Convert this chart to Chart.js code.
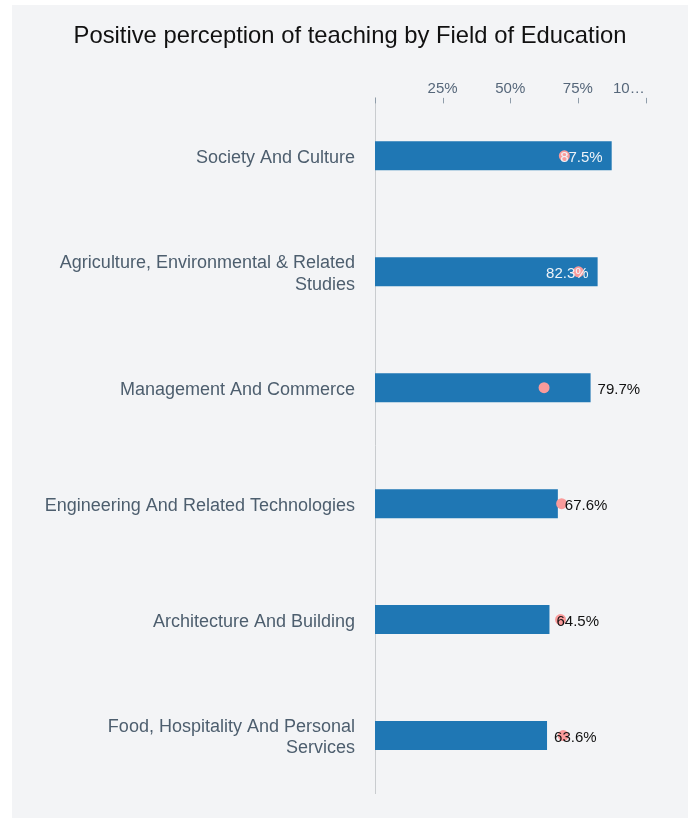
<!DOCTYPE html>
<html>
<head>
<meta charset="utf-8">
<script src="https://cdn.jsdelivr.net/npm/chart.js@4"></script>
<style>
  html, body { margin: 0; padding: 0; background: #ffffff; }
  #wrap { position: absolute; left: 12px; top: 5px; width: 676px; height: 813px; }
</style>
</head>
<body>
<div id="wrap"><canvas id="chart_teaching"></canvas></div>
<script>
var categories = [
    ['Society And Culture'],
    ['Agriculture, Environmental & Related', 'Studies'],
    ['Management And Commerce'],
    ['Engineering And Related Technologies'],
    ['Architecture And Building'],
    ['Food, Hospitality And Personal', 'Services']
];
var positiveValues = [87.5, 82.3, 79.7, 67.6, 64.5, 63.6];
var benchmarkValues = [70.0, 75.2, 62.5, 69.0, 68.6, 69.6];
var xTickValues = [0, 25, 50, 75, 100];

var FONT = '"Liberation Sans", Arial, Helvetica, sans-serif';

var chart_teaching = new Chart(document.getElementById('chart_teaching'), {
    type: 'bar',
    data: {
        labels: categories,
        datasets: [
            {
                type: 'line',
                label: 'Benchmark',
                data: benchmarkValues,
                showLine: false,
                pointRadius: 5.5,
                pointHoverRadius: 5.5,
                pointBorderWidth: 0,
                pointBackgroundColor: '#fa9b9b',
                borderColor: '#fa9b9b',
                order: 1
            },
            {
                label: 'Positive perception',
                data: positiveValues,
                backgroundColor: '#1f77b4',
                categoryPercentage: 1,
                barPercentage: 0.25,
                order: 2
            }
        ]
    },
    options: {
        animation: false,
        responsive: true,
        maintainAspectRatio: false,
        indexAxis: 'y',
        layout: {
            // equal side padding keeps the title centred on the panel
            padding: { left: 42.5, right: 42.5, top: 0, bottom: 24.5 }
        },
        plugins: {
            legend: { display: false },
            tooltip: { enabled: false },
            title: {
                display: true,
                text: 'Positive perception of teaching by Field of Education',
                color: '#111111',
                font: { family: FONT, size: 23.8, weight: 'normal' },
                padding: { top: 16.7, bottom: 28.6 }
            }
        },
        scales: {
            x: {
                position: 'top',
                min: 0,
                max: 100,
                afterBuildTicks: function(scale) {
                    scale.ticks = xTickValues.map(function(v) { return { value: v }; });
                },
                ticks: {
                    color: '#56677a',
                    padding: 0.5,
                    maxRotation: 0,
                    minRotation: 0,
                    autoSkip: false,
                    font: { family: FONT, size: 15 },
                    callback: function(value) {
                        if (value === 0) return '';
                        if (value === 100) return '10\u2026        ';
                        return value + '%';
                    }
                },
                grid: { display: false, drawTicks: false },
                border: { display: false }
            },
            y: {
                afterFit: function(scale) {
                    scale.width = 320.5;
                    scale.paddingTop = 0;
                    scale.paddingBottom = 0;
                },
                ticks: {
                    color: '#4d5e6e',
                    padding: 20,
                    labelOffset: 2,
                    font: { family: FONT, size: 18, lineHeight: 1.22 }
                },
                grid: { display: false, drawTicks: false },
                border: { display: true, color: '#c9cccf', width: 1 }
            }
        }
    },
    plugins: [{
        id: 'panelBackground',
        beforeDraw: function(chart) {
            var ctx = chart.ctx;
            ctx.save();
            ctx.fillStyle = '#f3f4f6';
            ctx.fillRect(0, 0, chart.width, chart.height);
            ctx.restore();
        }
    }, {
        // let the long category labels spill into the left padding instead of being clipped
        id: 'unclipLabels',
        afterLayout: function(chart) {
            chart.scales.y.left = 0;
        }
    }, {
        id: 'tickMarksAndLabels',
        afterDatasetsDraw: function(chart) {
            var ctx = chart.ctx;
            var area = chart.chartArea;
            var xs = chart.scales.x;
            ctx.save();
            // short tick marks hanging into the plot from the top axis
            ctx.strokeStyle = '#8f9daa';
            ctx.lineWidth = 1;
            xTickValues.forEach(function(v) {
                var px = Math.round(xs.getPixelForValue(v)) + 0.5;
                ctx.beginPath();
                ctx.moveTo(px, area.top);
                ctx.lineTo(px, area.top + 5.5);
                ctx.stroke();
            });
            // value labels, inside the bar when it is long enough
            var meta = chart.getDatasetMeta(1);
            ctx.font = '15px ' + FONT;
            ctx.textBaseline = 'middle';
            meta.data.forEach(function(bar, i) {
                var v = positiveValues[i];
                var txt = v.toFixed(1) + '%';
                if (v > 80) {
                    ctx.fillStyle = '#eef3f8';
                    ctx.textAlign = 'right';
                    ctx.fillText(txt, bar.x - 9, bar.y + 2);
                } else {
                    ctx.fillStyle = '#111111';
                    ctx.textAlign = 'left';
                    ctx.fillText(txt, bar.x + 7, bar.y + 2);
                }
            });
            ctx.restore();
        }
    }]
});
</script>
</body>
</html>
